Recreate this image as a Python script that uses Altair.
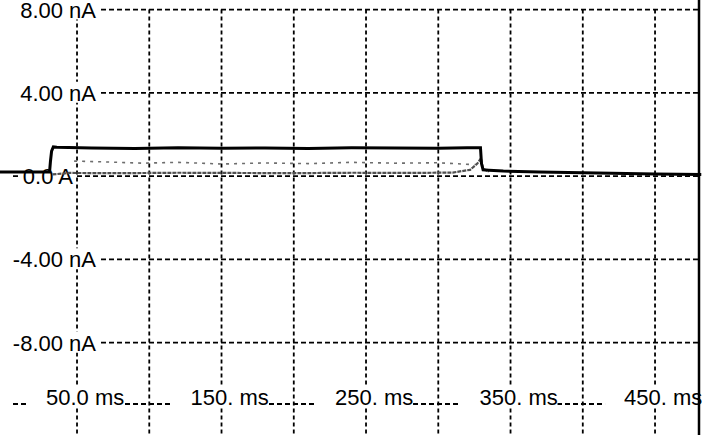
import altair as alt
import pandas as pd

# Membrane current recording: time in ms, current in nA
trace_t = [-3.3, 31.0, 31.6, 32.4, 33.6, 36.0, 60, 90, 120, 150, 180, 210, 240, 270, 300, 320, 329.2, 329.9, 331.0, 335, 345, 370, 410, 450, 482]
trace_i = [0.20, 0.20, 0.70, 1.20, 1.40, 1.38, 1.35, 1.33, 1.36, 1.34, 1.35, 1.33, 1.36, 1.35, 1.34, 1.36, 1.36, 0.60, 0.30, 0.28, 0.24, 0.20, 0.15, 0.10, 0.08]

# Second (grey) sweep, lower band
sweep_t = [33, 45, 80, 120, 160, 200, 240, 280, 310, 322, 327, 329.5, 331, 335]
sweep_i = [0.08, 0.15, 0.14, 0.16, 0.15, 0.14, 0.16, 0.15, 0.17, 0.30, 0.60, 0.85, 0.35, 0.22]

# Sparse grey points of the second sweep, upper band
speck_t = [48, 70, 95, 120, 150, 180, 210, 240, 270, 300, 325]
speck_i = [0.72, 0.68, 0.62, 0.66, 0.58, 0.63, 0.60, 0.66, 0.62, 0.64, 0.55]

# Axis ticks and labels
x_grid = [50, 100, 150, 200, 250, 300, 350, 400, 450]
x_ticks = [50, 150, 250, 350, 450]
x_labels = ["50.0 ms", "150. ms", "250. ms", "350. ms", "450. ms"]
y_grid = [8, 4, 0, -4, -8]
y_ticks = [8, 4, -4, -8]
y_labels = ["8.00 nA", "4.00 nA", "-4.00 nA", "-8.00 nA"]
zero_label = "0.0 A"
time_label_level = -10.95

X_DOMAIN = [-3.3, 482.5]
Y_DOMAIN = [-12.44, 8.46]
FONT = "Liberation Sans"
FS = 22

xs = alt.Scale(domain=X_DOMAIN, nice=False, zero=False)
ys = alt.Scale(domain=Y_DOMAIN, nice=False, zero=False)

trace_df = pd.DataFrame({"t": trace_t, "i": trace_i})
sweep_df = pd.DataFrame({"t": sweep_t, "i": sweep_i})
speck_df = pd.DataFrame({"t": speck_t, "i": speck_i})
hgrid_df = pd.DataFrame({"v": y_grid + [time_label_level]})
vgrid_df = pd.DataFrame({"t": x_grid, "top": max(y_grid)})
xlab_df = pd.DataFrame({"t": x_ticks, "label": x_labels, "v": time_label_level})
ylab_df = pd.DataFrame({"v": y_ticks, "label": y_labels})
zlab_df = pd.DataFrame({"v": [0], "label": [zero_label]})

hgrid = alt.Chart(hgrid_df).mark_rule(color="black", strokeWidth=1.8, strokeDash=[5, 3]).encode(
    x=alt.value(13), x2=alt.value(699),
    y=alt.Y("v:Q", scale=ys, axis=None),
)

vgrid = alt.Chart(vgrid_df).mark_rule(color="black", strokeWidth=1.8, strokeDash=[4, 3]).encode(
    x=alt.X("t:Q", scale=xs, axis=None),
    y=alt.Y("top:Q", scale=ys, axis=None),
    y2=alt.value(435),
)

# white label backgrounds interrupt the grid like an oscilloscope readout
xlab_box = alt.Chart(xlab_df).mark_rect(
    color="white", xOffset=-50, x2Offset=47, yOffset=-18, y2Offset=4
).encode(
    x=alt.X("t:Q", scale=xs, axis=None), x2="t:Q",
    y=alt.Y("v:Q", scale=ys, axis=None), y2="v:Q",
)

xlab = alt.Chart(xlab_df).mark_text(
    align="left", baseline="alphabetic", dx=-31, dy=1, font=FONT, fontSize=FS, color="black"
).encode(
    x=alt.X("t:Q", scale=xs, axis=None),
    y=alt.Y("v:Q", scale=ys, axis=None),
    text="label:N",
)

ylab_box = alt.Chart(ylab_df).mark_rect(color="white", yOffset=-11, y2Offset=10).encode(
    x=alt.value(2), x2=alt.value(99),
    y=alt.Y("v:Q", scale=ys, axis=None), y2="v:Q",
)

ylab = alt.Chart(ylab_df).mark_text(
    align="right", baseline="middle", dy=1, font=FONT, fontSize=FS, color="black"
).encode(
    x=alt.value(96),
    y=alt.Y("v:Q", scale=ys, axis=None),
    text="label:N",
)

zlab_box = alt.Chart(zlab_df).mark_rect(color="white", yOffset=-10, y2Offset=11).encode(
    x=alt.value(20), x2=alt.value(76),
    y=alt.Y("v:Q", scale=ys, axis=None), y2="v:Q",
)

zlab = alt.Chart(zlab_df).mark_text(
    align="right", baseline="middle", dy=1, font=FONT, fontSize=FS, color="black"
).encode(
    x=alt.value(73),
    y=alt.Y("v:Q", scale=ys, axis=None),
    text="label:N",
)

speck = alt.Chart(speck_df).mark_line(color="#6e6e6e", strokeWidth=1.6, strokeDash=[3, 5]).encode(
    x=alt.X("t:Q", scale=xs, axis=None),
    y=alt.Y("i:Q", scale=ys, axis=None),
)

sweep = alt.Chart(sweep_df).mark_line(color="#505050", strokeWidth=2.2, strokeDash=[4, 1]).encode(
    x=alt.X("t:Q", scale=xs, axis=None),
    y=alt.Y("i:Q", scale=ys, axis=None),
)

trace = alt.Chart(trace_df).mark_line(color="black", strokeWidth=3).encode(
    x=alt.X("t:Q", scale=xs, axis=None),
    y=alt.Y("i:Q", scale=ys, axis=None),
)

border = alt.Chart(zlab_df).mark_rule(color="black", strokeWidth=2.5).encode(
    x=alt.value(699), y=alt.value(0), y2=alt.value(435),
)

chart = alt.layer(
    hgrid, vgrid, xlab_box, xlab, ylab_box, ylab, zlab_box, zlab, speck, sweep, trace, border
).properties(
    width=702, height=435,
    autosize=alt.AutoSizeParams(type="none"),
    padding=0,
    background="white",
).configure_view(stroke=None)

chart.save("out.html", embed_options={"renderer": "svg", "actions": False})
